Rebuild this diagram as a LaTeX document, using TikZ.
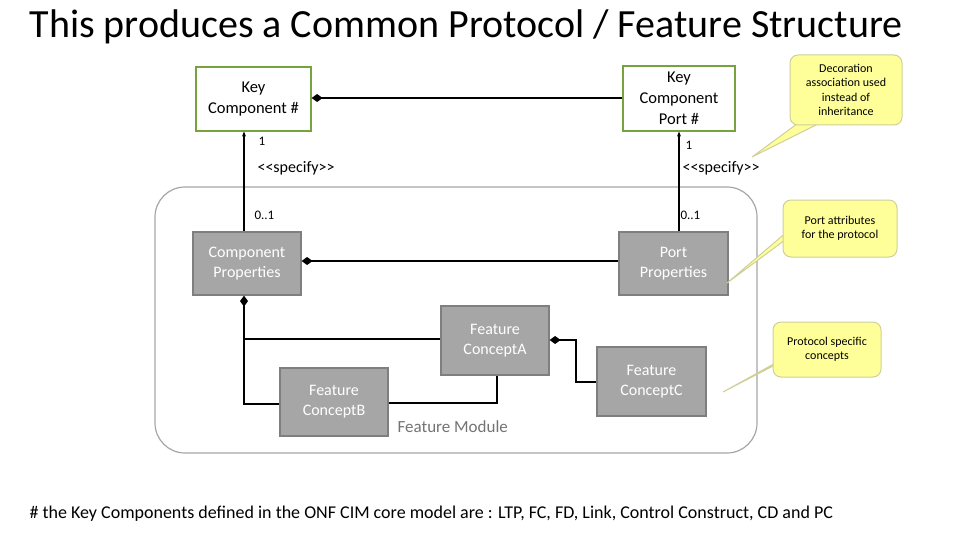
\documentclass[tikz,border=0pt]{standalone}
\usepackage{fontspec}
\setmainfont{Carlito}
\usetikzlibrary{arrows.meta}
\definecolor{boxg}{HTML}{A6A6A6}
\definecolor{boxb}{HTML}{7F7F7F}
\definecolor{kgreen}{HTML}{77A33F}
\definecolor{note}{HTML}{FFFF99}
\definecolor{noteb}{HTML}{CFCF9A}
\begin{document}
\begin{tikzpicture}[x=1pt,y=-1pt,
  kbox/.style={draw=kgreen,line width=1.2pt,fill=white,align=center,font=\fontsize{16.5}{21}\selectfont},
  gbox/.style={draw=boxb,line width=1.2pt,fill=boxg,text=white,align=center,font=\fontsize{16}{20}\selectfont},
  conn/.style={line width=1.5pt,black},
  dia/.style={-{Diamond[length=11pt,width=8pt]}},
  lab/.style={font=\fontsize{13}{15}\selectfont,anchor=west},
  notebox/.style={fill=note,draw=noteb,line width=1pt,rounded corners=8pt},
  notetxt/.style={align=center,font=\fontsize{12}{14.5}\selectfont}]
\useasboundingbox (0,0) rectangle (960,540);
\node[anchor=west,font=\fontsize{40}{44}\selectfont] (title) at (26,27) {This produces a Common Protocol / Feature Structure};
% module
\draw[gray!70,line width=1.2pt,rounded corners=30pt] (155,187) rectangle (757,453);
\node[anchor=west,text=gray!90!black,font=\fontsize{17}{20}\selectfont] (fm) at (394,427) {Feature Module};
% boxes
\node[kbox,minimum width=115pt,minimum height=64pt] (kc) at (253.5,99) {Key\\Component \#};
\node[kbox,minimum width=112pt,minimum height=65pt] (kcp) at (679,98.5) {Key\\Component\\Port \#};
\node[gbox,minimum width=108pt,minimum height=63pt] (cp) at (247,263.5) {Component\\Properties};
\node[gbox,minimum width=109pt,minimum height=63pt] (pp) at (673.5,263.5) {Port\\Properties};
\node[gbox,minimum width=108pt,minimum height=69pt] (fa) at (495,340.5) {Feature\\ConceptA};
\node[gbox,minimum width=108pt,minimum height=68pt] (fb) at (334,402) {Feature\\ConceptB};
\node[gbox,minimum width=109pt,minimum height=69pt] (fc) at (651.5,381.5) {Feature\\ConceptC};
% connectors
\draw[conn,dia] (kcp.west|-0,98) -- (kc.east|-0,98);
\draw[conn,-{Stealth[length=5pt,width=4pt]}] (cp.north-|244,0) -- (kc.south-|244,0);
\draw[conn,-{Stealth[length=5pt,width=4pt]}] (pp.north-|679,0) -- (kcp.south-|679,0);
\draw[conn,dia] (pp.west|-0,261) -- (cp.east|-0,261);
\coordinate (j1) at (244,339);
\draw[conn,dia] (fb.west|-0,404) -- (244,404) -- (cp.south-|244,0);
\draw[conn] (j1) -- (fa.west|-0,339);
\draw[conn] (fb.east|-0,403) -- (497,403) -- (fa.south-|497,0);
\draw[conn,dia] (fc.west|-0,382) -- (576,382) -- (576,340) -- (fa.east|-0,340);
% labels
\node[lab] (l1) at (255,141) {1};
\node[lab] (l2) at (682,145) {1};
\node[lab,font=\fontsize{16}{18}\selectfont] (s1) at (254,168) {{<}{<}specify{>}{>}};
\node[lab,font=\fontsize{16}{18}\selectfont] (s2) at (679,168) {{<}{<}specify{>}{>}};
\node[lab] (z1) at (251,215) {0..1};
\node[lab] (z2) at (677,215) {0..1};
% notes
\fill[note] (752,157) -- (805,118) -- (830,118) -- cycle;
\draw[noteb,line width=1pt] (805,118) -- (752,157) -- (830,118);
\node[notebox,minimum width=112pt,minimum height=70pt] (n1) at (846,90) {};
\node[notetxt] at (n1) {Decoration\\association used\\instead of\\inheritance};
\fill[note] (727,283) -- (785,240) -- (795,225) -- cycle;
\draw[noteb,line width=1pt] (785,240) -- (727,283) -- (795,225);
\node[notebox,minimum width=114pt,minimum height=57pt] (n2) at (840,228.5) {};
\node[notetxt] at (n2) {Port attributes\\for the protocol};
\fill[note] (723,392) -- (775,365) -- (790,355) -- cycle;
\draw[noteb,line width=1pt] (775,365) -- (723,392) -- (790,355);
\node[notebox,minimum width=108pt,minimum height=55pt] (n3) at (827,349.5) {};
\node[notetxt] at (n3) {Protocol specific\\concepts};
\node[anchor=west,font=\fontsize{18}{20}\selectfont] (foot) at (26,514) {\# the Key Components defined in the ONF CIM core model are : LTP, FC, FD, Link, Control Construct, CD and PC};
\end{tikzpicture}
\end{document}
